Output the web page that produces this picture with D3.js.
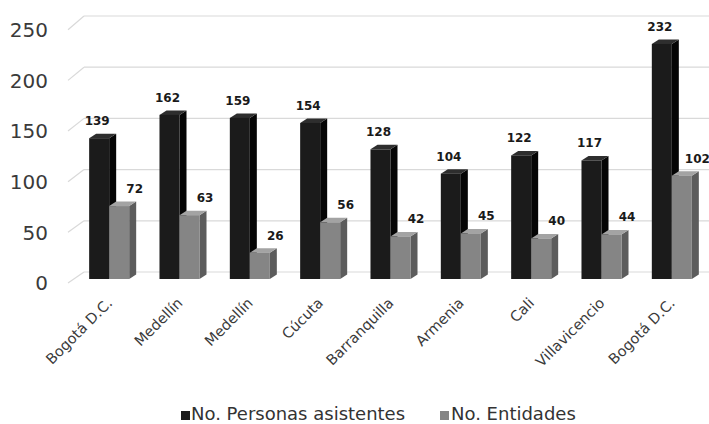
<!DOCTYPE html>
<html><head><meta charset="utf-8">
<script src="https://cdn.jsdelivr.net/npm/d3@7"></script>
<style>body{margin:0;background:#fff} svg{display:block}</style>
</head><body>
<script>
const categories = ["Bogotá D.C.","Medellín","Medellín","Cúcuta","Barranquilla","Armenia","Cali","Villavicencio","Bogotá D.C."];
const personas = [139,162,159,154,128,104,122,117,232];
const entidades = [72,63,26,56,42,45,40,44,102];
const yTicks = [0,50,100,150,200,250];
const seriesNames = ["No. Personas asistentes","No. Entidades"];

const W = 709, H = 424;
const FONT = "'DejaVu Sans', Verdana, sans-serif";
const svg = d3.select("body").append("svg").attr("width", W).attr("height", H);
svg.append("rect").attr("width", W).attr("height", H).attr("fill", "#fff");

const x = d3.scaleBand().domain(d3.range(categories.length)).range([74, 707]).paddingInner(0.431).paddingOuter(0.2155);
const xs = d3.scaleBand().domain([0, 1]).range([0, x.bandwidth()]);
const y = d3.scaleLinear().domain([0, 250]).range([279, 25.75]);
const yBack = d3.scaleLinear().domain([0, 250]).range([272, 16]);

// gridlines
const grid = svg.append("g");
yTicks.forEach(t => {
  grid.append("line").attr("x1", 84).attr("x2", W).attr("y1", yBack(t)).attr("y2", yBack(t))
    .attr("stroke", "#d9d9d9").attr("stroke-width", 1.2);
  grid.append("line").attr("x1", 68).attr("y1", y(t) + 4).attr("x2", 84).attr("y2", yBack(t))
    .attr("stroke", "#d9d9d9").attr("stroke-width", 1.2);
});

// y labels
svg.append("g").selectAll("text").data(yTicks).join("text")
  .attr("x", 48).attr("y", d => y(d) + 4).attr("dy", "0.36em")
  .attr("text-anchor", "end").attr("font-family", FONT).attr("font-size", 20)
  .attr("fill", "#3a3a3a").text(d => d);

const DX = 7, DY = 4.5;
const styles = [
  {front: "#1b1b1b", side: "#050505", top: "#2e2e2e"},
  {front: "#858585", side: "#5c5c5c", top: "#a3a3a3"}
];
const seriesData = [personas, entidades];
const base = y(0);

seriesData.forEach((vals, s) => {
  const g = svg.append("g");
  const st = styles[s];
  const w = xs.bandwidth();
  vals.forEach((v, i) => {
    const x0 = x(i) + xs(s), yt = y(v);
    g.append("polygon")
      .attr("points", [[x0 + w, yt], [x0 + w + DX, yt - DY], [x0 + w + DX, base - DY], [x0 + w, base]].join(" "))
      .attr("fill", st.side);
    g.append("polygon")
      .attr("points", [[x0, yt], [x0 + DX, yt - DY], [x0 + w + DX, yt - DY], [x0 + w, yt]].join(" "))
      .attr("fill", st.top);
    g.append("rect").attr("x", x0).attr("y", yt).attr("width", w).attr("height", base - yt)
      .attr("fill", st.front);
  });
});

// value labels
seriesData.forEach((vals, s) => {
  svg.append("g").selectAll("text").data(vals).join("text")
    .attr("x", (d, i) => x(i) + xs(s) + xs.bandwidth() / 2 + (s === 0 ? -2 : 15.5))
    .attr("y", d => y(d) - 13)
    .attr("text-anchor", "middle").attr("font-family", FONT).attr("font-size", 12)
    .attr("font-weight", "bold").attr("fill", "#1a1a1a").text(d => d);
});

// category labels
svg.append("g").selectAll("text").data(categories).join("text")
  .attr("transform", (d, i) => `translate(${x(i) + x.bandwidth() / 2 + 4},304) rotate(-45)`)
  .attr("text-anchor", "end").attr("font-family", FONT).attr("font-size", 14.5)
  .attr("fill", "#3a3a3a").text(d => d);

// legend
const legend = [{x: 181, tx: 191}, {x: 440, tx: 451}];
legend.forEach((l, s) => {
  svg.append("rect").attr("x", l.x).attr("y", 411).attr("width", 9).attr("height", 9)
    .attr("fill", s === 0 ? "#1b1b1b" : "#858585");
  svg.append("text").attr("x", l.tx).attr("y", 420).attr("font-family", FONT).attr("font-size", 18)
    .attr("fill", "#333").text(seriesNames[s]);
});
</script>
</body></html>
